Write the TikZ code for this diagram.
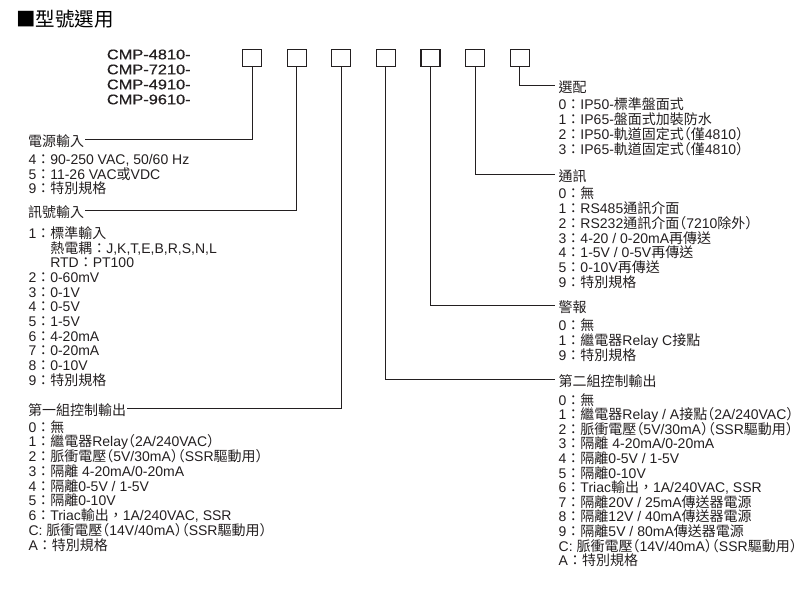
\documentclass[tikz,border=0pt]{standalone}
\usepackage{fontspec}
\setmainfont{Liberation Sans}
\newfontfamily\cjkfont{Noto Sans CJK TC}
\newfontfamily\cjkparen{Noto Sans CJK TC}[RawFeature={+halt}]
\newfontfamily\modelfont{Liberation Sans}[FakeStretch=1.17,FakeBold=0.6]
\XeTeXinterchartokenstate=1
\newXeTeXintercharclass\CJKcls
\newXeTeXintercharclass\PARcls
\newcount\cjkc
\def\setcjkrange#1#2{\cjkc=#1\relax\loop\XeTeXcharclass\cjkc=\CJKcls\relax\ifnum\cjkc<#2\relax\advance\cjkc by 1\relax\repeat}
\setcjkrange{"3000}{"303F}
\setcjkrange{"4E00}{"9FFF}
\setcjkrange{"FF00}{"FFEF}
\XeTeXcharclass"25A0=\CJKcls
\XeTeXcharclass"FF08=\PARcls
\XeTeXcharclass"FF09=\PARcls
\XeTeXinterchartoks 0 \CJKcls = {\cjkfont}
\XeTeXinterchartoks 4095 \CJKcls = {\cjkfont}
\XeTeXinterchartoks \PARcls \CJKcls = {\cjkfont}
\XeTeXinterchartoks 0 \PARcls = {\cjkparen}
\XeTeXinterchartoks 4095 \PARcls = {\cjkparen}
\XeTeXinterchartoks \CJKcls \PARcls = {\cjkparen}
\XeTeXinterchartoks \CJKcls 0 = {\rmfamily}
\XeTeXinterchartoks \CJKcls 4095 = {\rmfamily}
\XeTeXinterchartoks \PARcls 0 = {\rmfamily}
\XeTeXinterchartoks \PARcls 4095 = {\rmfamily}
\definecolor{ink}{RGB}{35,31,32}
\tikzset{
  txt/.style={inner sep=0pt, anchor=base west, text=ink, font=\fontsize{14}{14}\selectfont},
  mdl/.style={inner sep=0pt, anchor=base west, text=ink, font=\modelfont\fontsize{14}{14}\selectfont},
  ttl/.style={inner sep=0pt, anchor=base west, text=black, font=\fontsize{19.5}{19.5}\selectfont},
  selbox/.style={draw=ink, line width=1.2pt, minimum width=19pt, minimum height=17pt, inner sep=0pt},
  lead/.style={draw=ink, line width=1pt},
}
\begin{document}
\begin{tikzpicture}[x=1pt,y=-1pt]
\path[use as bounding box] (0,0) rectangle (808,603);

% title
\node[ttl] (title) at (16,26.5) {■型號選用};

% model numbers
\node[mdl] (m1) at (106.7,59.3) {CMP-4810-};
\node[mdl] (m2) at (106.7,74.3) {CMP-7210-};
\node[mdl] (m3) at (106.7,89.3) {CMP-4910-};
\node[mdl] (m4) at (106.7,104.3) {CMP-9610-};

% selection boxes
\foreach \i in {1,...,7}
  \node[selbox] (b\i) at ({252+44.63*(\i-1)},57.7) {};

% ---- left side ----
\node[txt] (lPow) at (28,146) {電源輸入};
\foreach \t [count=\i from 0] in {{4：90-250 VAC, 50/60 Hz},{5：11-26 VAC或VDC},{9：特別規格}}
  \node[txt] (pow\i) at (28.3,{164.4+14.6*\i}) {\t};

\node[txt] (lSig) at (28,217.5) {訊號輸入};
\foreach \t [count=\i from 0] in {{1：標準輸入},{\phantom{1：}熱電耦：J,K,T,E,B,R,S,N,L},{\phantom{1：}RTD：PT100},{2：0-60mV},{3：0-1V},{4：0-5V},{5：1-5V},{6：4-20mA},{7：0-20mA},{8：0-10V},{9：特別規格}}
  \node[txt] (sig\i) at (28.3,{238.7+14.63*\i}) {\t};

\node[txt] (lOutA) at (28,415) {第一組控制輸出};
\foreach \t [count=\i from 0] in {{0：無},{1：繼電器Relay（2A/240VAC）},{2：脈衝電壓（5V/30mA）（SSR驅動用）},{3：隔離 4-20mA/0-20mA},{4：隔離0-5V / 1-5V},{5：隔離0-10V},{6：Triac輸出，1A/240VAC, SSR},{C: 脈衝電壓（14V/40mA）（SSR驅動用）},{A：特別規格}}
  \node[txt] (outa\i) at (28.3,{432+14.75*\i}) {\t};

% ---- right side ----
\node[txt] (lOpt) at (558.5,92.5) {選配};
\foreach \t [count=\i from 0] in {{0：IP50-標準盤面式},{1：IP65-盤面式加裝防水},{2：IP50-軌道固定式（僅4810）},{3：IP65-軌道固定式（僅4810）}}
  \node[txt] (opt\i) at (558.5,{109.5+15*\i}) {\t};

\node[txt] (lCom) at (558.5,181) {通訊};
\foreach \t [count=\i from 0] in {{0：無},{1：RS485通訊介面},{2：RS232通訊介面（7210除外）},{3：4-20 / 0-20mA再傳送},{4：1-5V / 0-5V再傳送},{5：0-10V再傳送},{9：特別規格}}
  \node[txt] (com\i) at (558.5,{198.3+14.9*\i}) {\t};

\node[txt] (lAlm) at (558.5,312.5) {警報};
\foreach \t [count=\i from 0] in {{0：無},{1：繼電器Relay C接點},{9：特別規格}}
  \node[txt] (alm\i) at (558.5,{330+15*\i}) {\t};

\node[txt] (lOutB) at (558.5,386) {第二組控制輸出};
\foreach \t [count=\i from 0] in {{0：無},{1：繼電器Relay / A接點（2A/240VAC）},{2：脈衝電壓（5V/30mA）（SSR驅動用）},{3：隔離 4-20mA/0-20mA},{4：隔離0-5V / 1-5V},{5：隔離0-10V},{6：Triac輸出，1A/240VAC, SSR},{7：隔離20V / 25mA傳送器電源},{8：隔離12V / 40mA傳送器電源},{9：隔離5V / 80mA傳送器電源},{C: 脈衝電壓（14V/40mA）（SSR驅動用）},{A：特別規格}}
  \node[txt] (outb\i) at (558.5,{405+14.6*\i}) {\t};

% ---- leader lines ----
\draw[lead] (b1.south) |- ([xshift=1pt,yshift=1.5pt]lPow.east);
\draw[lead] (b2.south) |- ([xshift=1pt,yshift=1.5pt]lSig.east);
\draw[lead] (b3.south) |- ([xshift=1pt,yshift=1.5pt]lOutA.east);
\draw[lead] (b4.south) |- ([xshift=-4pt,yshift=1.5pt]lOutB.west);
\draw[lead] (b5.south) |- ([xshift=-4pt,yshift=1.5pt]lAlm.west);
\draw[lead] (b6.south) |- ([xshift=-4pt,yshift=1.5pt]lCom.west);
\draw[lead] (b7.south) |- ([xshift=-4pt,yshift=1.5pt]lOpt.west);
\end{tikzpicture}
\end{document}
